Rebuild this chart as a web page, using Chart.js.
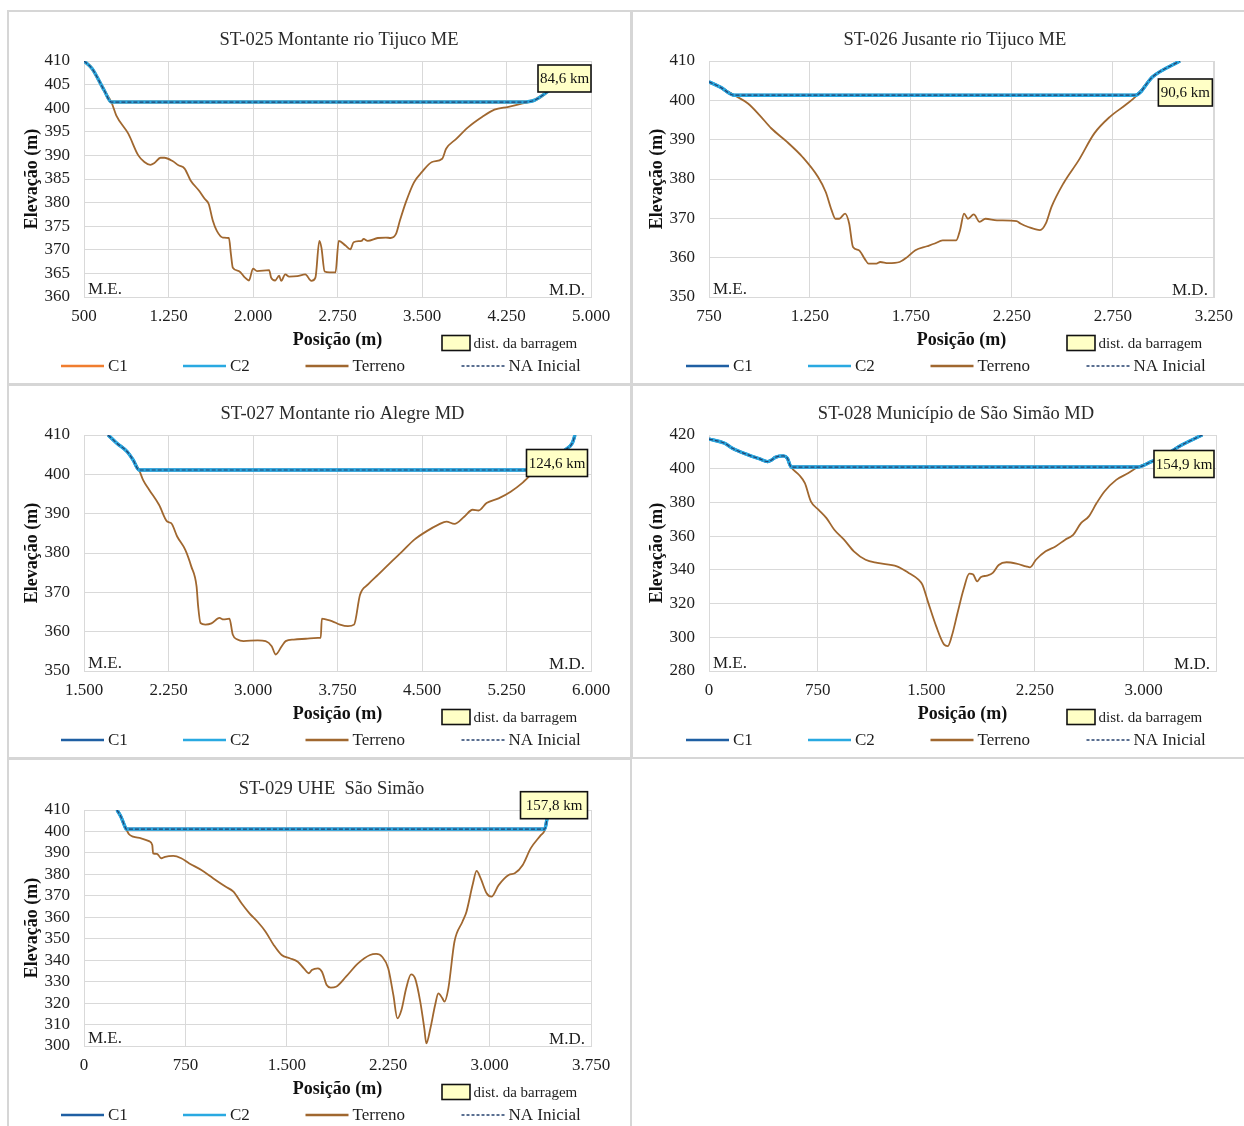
<!DOCTYPE html>
<html><head><meta charset="utf-8">
<script src="https://cdn.jsdelivr.net/npm/chart.js@4.4.1/dist/chart.umd.min.js"></script>
<style>
html,body{margin:0;padding:0;background:#fff;}
body{width:1244px;height:1126px;position:relative;overflow:hidden;}
.panel{position:absolute;border:2px solid #d6d6d6;box-sizing:border-box;}
canvas{position:absolute;}
</style></head><body>
<div class="panel" style="left:7px;top:10px;width:625px;height:375px"></div>
<div class="panel" style="left:631px;top:10px;width:615px;height:375px"></div>
<div class="panel" style="left:7px;top:384px;width:625px;height:375px"></div>
<div class="panel" style="left:631px;top:384px;width:615px;height:375px"></div>
<div class="panel" style="left:7px;top:758px;width:625px;height:380px"></div>
<canvas id="p1" width="620" height="370" style="left:9px;top:12px"></canvas>
<canvas id="p2" width="608" height="370" style="left:634px;top:12px"></canvas>
<canvas id="p3" width="620" height="370" style="left:9px;top:386px"></canvas>
<canvas id="p4" width="608" height="370" style="left:634px;top:386px"></canvas>
<canvas id="p5" width="620" height="365" style="left:9px;top:761px"></canvas>
<script>
// ---------------- DATA ----------------
const legendLabels = ['C1', 'C2', 'Terreno', 'NA Inicial'];

// ST-025
const st025_x = [500,571,679,743,786,893,982,1036,1089,1125,1179,1214,1286,1339,1393,1446,1518,1571,1607,1643,1679,1732,1786,1804,1821,1875,1929,1964,2000,2036,2143,2161,2196,2232,2250,2286,2321,2393,2464,2518,2554,2589,2607,2636,2679,2732,2761,2821,2864,2893,2964,2982,3018,3107,3179,3221,3268,3304,3357,3429,3500,3589,3679,3714,3804,3911,4036,4143,4268,4393,4500,4643];
const st025_terreno = [410,408.4,403.8,401.3,398.5,394.6,390,388.6,388,388.4,389.5,389.5,388.8,387.9,387.2,384.7,382.6,380.8,379.7,376.2,374,372.6,372.5,369.1,366.2,365.5,364.1,363.5,366,365.5,365.7,364.1,363.5,364.5,363.4,364.8,364.3,364.4,364.8,363.4,364.1,371.9,370.5,365.4,365.2,365.2,371.9,370.9,370.1,371.6,371.9,372.3,371.9,372.5,372.6,372.5,373.3,376.2,380.1,384.3,386.5,388.6,389.3,391.4,393.5,396,398.2,399.7,400.3,401,401.7,404];
const st025_agua_x = [500,571,679,743,4393,4500,4643];
const st025_agua = [410,408.4,403.8,401.3,401.3,401.7,404];
const st025_xTicks = [500,1250,2000,2750,3500,4250,5000];
const st025_yTicks = [360,365,370,375,380,385,390,395,400,405,410];
const st025_dist = '84,6 km';

// ST-026
const st026_x = [750,808,875,943,1001,1058,1135,1213,1290,1328,1357,1376,1395,1424,1444,1463,1492,1521,1540,1579,1598,1637,1694,1733,1772,1829,1868,1907,1974,1993,2013,2032,2061,2090,2119,2176,2273,2292,2331,2389,2418,2446,2504,2581,2658,2735,2812,2861,2947,3082];
const st026_terreno = [404.7,403.3,401.3,399.2,396.2,392.9,389.5,385.6,380.5,376.7,372.1,369.9,369.9,371.2,368.7,362.7,361.9,359.7,358.5,358.5,358.9,358.6,358.9,360.2,361.9,362.9,363.6,364.4,364.4,367,371.2,369.9,371,369.1,369.9,369.5,369.3,368.7,367.8,367,368.7,372.9,378.8,384.8,391.6,395.8,398.8,400.9,406,410];
const st026_agua_x = [750,808,875,2861,2947,3082];
const st026_agua = [404.7,403.3,401.3,401.3,406,410];
const st026_xTicks = [750,1250,1750,2250,2750,3250];
const st026_yTicks = [350,360,370,380,390,400,410];
const st026_dist = '90,6 km';

// ST-027
const st027_x = [1714,1792,1882,1935,1989,2024,2078,2167,2238,2274,2327,2399,2452,2499,2513,2534,2577,2631,2702,2738,2791,2820,2862,2916,3041,3112,3166,3201,3255,3290,3362,3469,3576,3601,3611,3647,3700,3772,3843,3897,3950,4021,4111,4218,4325,4432,4539,4646,4717,4788,4877,4949,5002,5073,5180,5287,5394,5466,5501,5650,5770,5835,5858];
const st027_terreno = [410,407.9,405.8,403.7,401.1,398.6,396.1,392.2,388,387.6,384.2,380.8,376.6,371.5,366.5,362.2,361.8,362.1,363.5,363.1,363.3,359.3,358,357.6,357.8,357.6,356.3,354.2,356.3,357.6,358,358.2,358.4,358.4,363.3,363.1,362.7,361.8,361.4,361.8,369.4,372,374.5,377.5,380.4,383.4,385.5,387.2,388,387.4,389.3,391,390.8,392.7,393.9,395.6,397.9,399.9,401,403.5,406.2,408,410];
const st027_agua_x = [1714,1792,1882,1935,1989,5501,5650,5770,5835,5858];
const st027_agua = [410,407.9,405.8,403.7,401.1,401.1,403.5,406.2,408,410];
const st027_xTicks = [1500,2250,3000,3750,4500,5250,6000];
const st027_yTicks = [350,360,370,380,390,400,410];
const st027_dist = '124,6 km';

// ST-028
const st028_x = [0,108,162,270,351,405,432,459,514,541,568,622,662,703,757,811,865,932,1000,1081,1162,1297,1378,1446,1473,1514,1568,1622,1649,1676,1716,1757,1797,1824,1851,1878,1919,1959,2000,2054,2122,2189,2216,2257,2324,2392,2459,2514,2568,2622,2676,2730,2811,2892,2959,3054,3135,3243,3405];
const st028_terreno = [417.6,415.1,412.1,408.2,405.8,404.2,405.2,406.8,407.6,406.2,400.9,396.3,391.4,380.6,375.6,370.7,363.8,357.9,351,346,344.1,342.1,338.2,334.2,331.3,320.4,306.6,295.8,294.8,300.7,314.5,328.3,337.8,337.2,333.2,335.8,336.6,338.2,342.9,344.5,343.7,342.1,341.5,346,351,353.9,357.9,360.8,367.7,371.7,379.6,386.5,393.4,397.3,400.9,404.2,407.2,413.1,420];
const st028_agua_x = [0,108,162,270,351,405,432,459,514,541,568,2959,3054,3135,3243,3405];
const st028_agua = [417.6,415.1,412.1,408.2,405.8,404.2,405.2,406.8,407.6,406.2,401,401,404.2,407.2,413.1,420];
const st028_xRange = [0,3500];
const st028_xTicks = [0,750,1500,2250,3000];
const st028_yTicks = [280,300,320,340,360,380,400,420];
const st028_dist = '154,9 km';

// ST-029
const st029_x = [244,273,303,312,333,363,422,481,505,511,541,571,600,660,719,779,868,957,1046,1105,1165,1224,1284,1343,1403,1462,1522,1581,1626,1664,1685,1730,1760,1795,1825,1864,1938,2027,2116,2161,2205,2250,2288,2318,2348,2383,2419,2449,2487,2517,2532,2562,2597,2621,2651,2666,2695,2740,2799,2829,2874,2904,2934,2978,3013,3067,3141,3186,3245,3304,3379,3408,3425];
const st029_terreno = [410,406.9,402.2,401.1,398.7,397.6,396.8,395.5,393.7,389.8,389.5,387.5,388.2,388.6,387.5,385.1,382,378.1,374.3,371.9,366.5,361.8,357.9,353.3,347.1,342.4,340.9,339.3,336.2,333.9,335.4,336.2,334.6,328.4,327.2,327.6,332.3,338.5,342.4,342.9,341.6,336.2,323.8,312.9,316.8,326.9,333.4,331.5,320.7,308.2,301.2,308.2,319.1,324.5,322.2,320.7,326.9,348.6,357.9,362.6,375,381.6,378.1,371.2,369.6,375,379.7,380.5,384.4,392.1,398.3,400.7,406];
const st029_agua_x = [244,273,303,312,3408,3425];
const st029_agua = [410,406.9,402.2,401.1,401.1,406];
const st029_xTicks = [0,750,1500,2250,3000,3750];
const st029_yTicks = [300,310,320,330,340,350,360,370,380,390,400,410];
const st029_dist = '157,8 km';

// ---------------- STYLE / LAYOUT ----------------
const FONT = "'Liberation Serif', 'Times New Roman', serif";
Chart.defaults.font.family = FONT;
const GRID = '#d9d9d9';
const COL_C1_BLUE = '#1f5fa3', COL_C1_ORANGE = '#f07d2f', COL_C2 = '#29a9e1', COL_TER = '#a0672f', COL_NA = '#24406e';
const fmt = v => String(v).replace(/\B(?=(\d{3})+(?!\d))/g, '.');
const pts = (xs, ys) => xs.map((x, i) => ({x: x, y: ys[i]}));

const decor = {
  id: 'decor',
  beforeDatasetsDraw(chart, args, o) {
    const {ctx, chartArea: a} = chart;
    ctx.save();
    ctx.strokeStyle = GRID; ctx.lineWidth = 1;
    ctx.strokeRect(Math.round(a.left) + 0.5, Math.round(a.top) + 0.5, Math.round(a.right - a.left), Math.round(a.bottom - a.top));
    ctx.restore();
  },
  afterDraw(chart, args, o) {
    const {ctx, chartArea: a} = chart;
    ctx.save();
    // title
    ctx.font = '18.5px ' + FONT; ctx.fillStyle = '#2a2a2a'; ctx.textAlign = 'center'; ctx.textBaseline = 'middle';
    ctx.fillText(o.title, (a.left + a.right) / 2 + o.titleDx, a.top - 21);
    // M.E. / M.D.
    ctx.font = '17px ' + FONT; ctx.fillStyle = '#1e1e1e'; ctx.textBaseline = 'alphabetic';
    ctx.textAlign = 'left'; ctx.fillText('M.E.', a.left + 4, a.bottom - 3);
    ctx.textAlign = 'right'; ctx.fillText('M.D.', a.right - 6, a.bottom - 2);
    // distance label box
    const bw = o.boxW, bh = 27;
    const bx = a.right + o.boxDx - bw, by = a.top + o.boxDy;
    ctx.fillStyle = '#ffffc6'; ctx.fillRect(bx, by, bw, bh);
    ctx.lineWidth = 1.6; ctx.strokeStyle = '#111'; ctx.strokeRect(bx, by, bw, bh);
    ctx.font = '15px ' + FONT; ctx.fillStyle = '#111'; ctx.textAlign = 'center'; ctx.textBaseline = 'middle';
    ctx.fillText(o.dist, bx + bw / 2, by + bh / 2 + 1);
    // "dist. da barragem" legend entry
    const dy = a.bottom + 46;
    ctx.fillStyle = '#ffffc6'; ctx.fillRect(a.left + 358, dy - 7.5, 28, 15);
    ctx.lineWidth = 1.6; ctx.strokeStyle = '#111'; ctx.strokeRect(a.left + 358, dy - 7.5, 28, 15);
    ctx.fillStyle = '#1e1e1e'; ctx.textAlign = 'left'; ctx.font = '15px ' + FONT;
    ctx.fillText('dist. da barragem', a.left + 389.5, dy + 1);
    // series legend
    const ly = a.bottom + 69;
    const offs = [-23, 99, 221.5, 377.5];
    const byLabel = {};
    chart.data.datasets.forEach(d => byLabel[d.label] = d);
    ctx.font = '17px ' + FONT;
    legendLabels.forEach((lab, i) => {
      const d = byLabel[lab];
      const x0 = a.left + offs[i];
      ctx.beginPath();
      ctx.strokeStyle = d.borderColor;
      ctx.lineWidth = d.borderDash ? 1.5 : 2.5;
      ctx.setLineDash(d.borderDash ? [3, 2] : []);
      ctx.moveTo(x0, ly); ctx.lineTo(x0 + 43, ly); ctx.stroke();
      ctx.setLineDash([]);
      ctx.fillStyle = '#1e1e1e'; ctx.textAlign = 'left'; ctx.textBaseline = 'middle';
      ctx.fillText(lab, x0 + 47, ly + 1);
    });
    ctx.restore();
  }
};

function makeChart(id, p) {
  const cv = document.getElementById(id);
  const W = cv.width, H = cv.height;
  const water = pts(p.wx, p.wy);
  return new Chart(cv, {
    type: 'line',
    data: {
      datasets: [
        {label: 'NA Inicial', data: water, borderColor: COL_NA, borderWidth: 1.2, borderDash: [4, 2], order: 0},
        {label: 'C2', data: water, borderColor: COL_C2, borderWidth: 3.4, order: 1},
        {label: 'C1', data: water, borderColor: p.c1Color, borderWidth: 3, order: 2},
        {label: 'Terreno', data: pts(p.tx, p.ty), borderColor: COL_TER, borderWidth: 1.8, order: 3}
      ]
    },
    options: {
      responsive: false, animation: false, devicePixelRatio: 1,
      layout: {padding: {left: 0, top: 49, right: W - 582, bottom: H - 345}},
      elements: {point: {radius: 0, hoverRadius: 0}, line: {cubicInterpolationMode: 'monotone', fill: false}},
      plugins: {
        legend: {display: false}, tooltip: {enabled: false}, title: {display: false},
        decor: {title: p.title, titleDx: p.titleDx, dist: p.dist, boxW: p.boxW, boxDx: p.boxDx, boxDy: p.boxDy}
      },
      scales: {
        x: {
          type: 'linear', min: p.xRange[0], max: p.xRange[1],
          afterBuildTicks: s => { s.ticks = p.xTicks.map(v => ({value: v})); },
          afterFit: s => { s.height = 60; },
          grid: {color: GRID, drawTicks: false}, border: {color: GRID},
          ticks: {padding: 9, font: {size: 17}, color: '#1e1e1e', autoSkip: false, maxRotation: 0, callback: v => fmt(v)},
          title: {display: true, text: 'Posição (m)', color: '#111', font: {size: 18, weight: 'bold'}, padding: {top: 0, bottom: 5.7}}
        },
        y: {
          type: 'linear', min: p.yTicks[0], max: p.yTicks[p.yTicks.length - 1],
          afterBuildTicks: s => { s.ticks = p.yTicks.map(v => ({value: v})); },
          afterFit: s => { s.width = 75; },
          grid: {color: GRID, drawTicks: false}, border: {color: GRID},
          ticks: {padding: 14, font: {size: 17}, color: '#1e1e1e', autoSkip: false, callback: v => fmt(v)},
          title: {display: true, text: 'Elevação (m)', color: '#111', font: {size: 18, weight: 'bold'}, padding: {top: 12.2, bottom: 0}}
        }
      }
    },
    plugins: [decor]
  });
}

makeChart('p1', {title: 'ST-025 Montante rio Tijuco ME', titleDx: 1.5, tx: st025_x, ty: st025_terreno, wx: st025_agua_x, wy: st025_agua,
  xRange: [st025_xTicks[0], st025_xTicks[st025_xTicks.length - 1]], xTicks: st025_xTicks, yTicks: st025_yTicks,
  dist: st025_dist, boxW: 53, boxDx: 0, boxDy: 4, c1Color: COL_C1_ORANGE});
makeChart('p2', {title: 'ST-026 Jusante rio Tijuco ME', titleDx: -6.5, tx: st026_x, ty: st026_terreno, wx: st026_agua_x, wy: st026_agua,
  xRange: [st026_xTicks[0], st026_xTicks[st026_xTicks.length - 1]], xTicks: st026_xTicks, yTicks: st026_yTicks,
  dist: st026_dist, boxW: 54, boxDx: -1.5, boxDy: 18, c1Color: COL_C1_BLUE});
makeChart('p3', {title: 'ST-027 Montante rio Alegre MD', titleDx: 5, tx: st027_x, ty: st027_terreno, wx: st027_agua_x, wy: st027_agua,
  xRange: [st027_xTicks[0], st027_xTicks[st027_xTicks.length - 1]], xTicks: st027_xTicks, yTicks: st027_yTicks,
  dist: st027_dist, boxW: 61, boxDx: -3.5, boxDy: 14.5, c1Color: COL_C1_BLUE});
makeChart('p4', {title: 'ST-028 Município de São Simão MD', titleDx: -6.5, tx: st028_x, ty: st028_terreno, wx: st028_agua_x, wy: st028_agua,
  xRange: st028_xRange, xTicks: st028_xTicks, yTicks: st028_yTicks,
  dist: st028_dist, boxW: 60, boxDx: -2, boxDy: 15.5, c1Color: COL_C1_BLUE});
makeChart('p5', {title: 'ST-029 UHE  São Simão', titleDx: -6, tx: st029_x, ty: st029_terreno, wx: st029_agua_x, wy: st029_agua,
  xRange: [st029_xTicks[0], st029_xTicks[st029_xTicks.length - 1]], xTicks: st029_xTicks, yTicks: st029_yTicks,
  dist: st029_dist, boxW: 67, boxDx: -3.5, boxDy: -18.3, c1Color: COL_C1_BLUE});
</script>
</body></html>
